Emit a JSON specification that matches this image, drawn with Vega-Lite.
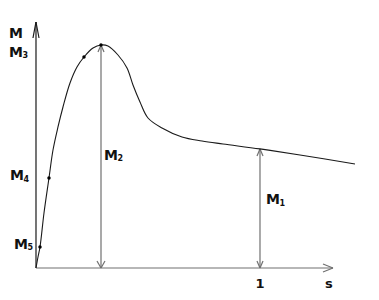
{
  "$schema": "https://vega.github.io/schema/vega-lite/v6.json",
  "width": 379,
  "height": 300,
  "padding": 0,
  "autosize": {"type": "fit", "contains": "padding"},
  "background": "white",
  "config": {"view": {"stroke": null}},
  "datasets": {
    "curve": [
      {"s": 0, "M": 0},
      {"s": 0.0089, "M": 0.0493},
      {"s": 0.0179, "M": 0.0942},
      {"s": 0.0357, "M": 0.2466},
      {"s": 0.058, "M": 0.4036},
      {"s": 0.0759, "M": 0.5291},
      {"s": 0.0982, "M": 0.6323},
      {"s": 0.1205, "M": 0.722},
      {"s": 0.1518, "M": 0.8296},
      {"s": 0.183, "M": 0.9013},
      {"s": 0.2143, "M": 0.9462},
      {"s": 0.2545, "M": 0.9865},
      {"s": 0.2902, "M": 1.0},
      {"s": 0.3214, "M": 0.9955},
      {"s": 0.3661, "M": 0.9552},
      {"s": 0.4063, "M": 0.8969},
      {"s": 0.433, "M": 0.8206},
      {"s": 0.4643, "M": 0.7444},
      {"s": 0.5, "M": 0.6726},
      {"s": 0.5625, "M": 0.6278},
      {"s": 0.6518, "M": 0.5874},
      {"s": 0.7411, "M": 0.5695},
      {"s": 0.8348, "M": 0.5561},
      {"s": 1.0, "M": 0.534},
      {"s": 1.1786, "M": 0.5067},
      {"s": 1.4241, "M": 0.4664}
    ],
    "dots": [
      {"s": 0.0179, "M": 0.0942},
      {"s": 0.058, "M": 0.4036},
      {"s": 0.2143, "M": 0.9462},
      {"s": 0.2902, "M": 1.0}
    ],
    "segs": [
      {"g": "axis", "x": 0, "y": 0, "x2": 0, "y2": 1.1031},
      {"g": "axis", "x": 0, "y": 1.1031, "x2": -0.0134, "y2": 1.0314},
      {"g": "axis", "x": 0, "y": 1.1031, "x2": 0.0134, "y2": 1.0314},
      {"g": "dim", "x": 0, "y": 0, "x2": 1.3259, "y2": 0},
      {"g": "dim", "x": 1.3259, "y": 0, "x2": 1.2813, "y2": 0.0179},
      {"g": "dim", "x": 1.3259, "y": 0, "x2": 1.2813, "y2": -0.0179},
      {"g": "dim", "x": 0.2902, "y": 0, "x2": 0.2902, "y2": 1.0},
      {"g": "dim", "x": 0.2902, "y": 1.0, "x2": 0.2768, "y2": 0.9686},
      {"g": "dim", "x": 0.2902, "y": 1.0, "x2": 0.3036, "y2": 0.9686},
      {"g": "dim", "x": 0.2902, "y": 0, "x2": 0.2723, "y2": 0.0314},
      {"g": "dim", "x": 0.2902, "y": 0, "x2": 0.308, "y2": 0.0314},
      {"g": "dim", "x": 1.0, "y": 0, "x2": 1.0, "y2": 0.534},
      {"g": "dim", "x": 1.0, "y": 0.534, "x2": 0.9866, "y2": 0.5022},
      {"g": "dim", "x": 1.0, "y": 0.534, "x2": 1.0134, "y2": 0.5022},
      {"g": "dim", "x": 1.0, "y": 0, "x2": 0.9866, "y2": 0.0314},
      {"g": "dim", "x": 1.0, "y": 0, "x2": 1.0134, "y2": 0.0314}
    ],
    "labels": [
      {"t": "M", "s": -0.1205, "M": 1.0336},
      {"t": "M", "s": -0.1205, "M": 0.944},
      {"t": "M", "s": -0.1161, "M": 0.3946},
      {"t": "M", "s": -0.0982, "M": 0.0852},
      {"t": "M", "s": 0.3036, "M": 0.4865},
      {"t": "M", "s": 1.0268, "M": 0.2848}
    ],
    "subs": [
      {"t": "3", "s": -0.0603, "M": 0.9395},
      {"t": "4", "s": -0.0558, "M": 0.3843},
      {"t": "5", "s": -0.038, "M": 0.0807},
      {"t": "2", "s": 0.3638, "M": 0.4776},
      {"t": "1", "s": 1.087, "M": 0.278}
    ],
    "ticks": [
      {"t": "1", "s": 1.0, "M": -0.091},
      {"t": "s", "s": 1.308, "M": -0.091}
    ]
  },
  "layer": [
    {
      "data": {"name": "segs"},
      "mark": {"type": "rule", "strokeWidth": 1.2},
      "encoding": {
        "x": {"field": "x", "type": "quantitative", "axis": null, "scale": {"domain": [-0.1607, 1.5313], "nice": false, "zero": false}},
        "y": {"field": "y", "type": "quantitative", "axis": null, "scale": {"domain": [-0.1435, 1.2018], "nice": false, "zero": false}},
        "x2": {"field": "x2"},
        "y2": {"field": "y2"},
        "color": {"field": "g", "type": "nominal", "legend": null, "scale": {"domain": ["axis", "dim"], "range": ["#1a1a1a", "#707070"]}}
      }
    },
    {
      "data": {"name": "curve"},
      "mark": {"type": "line", "interpolate": "catmull-rom", "color": "#1a1a1a", "strokeWidth": 1.1},
      "encoding": {
        "x": {"field": "s", "type": "quantitative"},
        "y": {"field": "M", "type": "quantitative"}
      }
    },
    {
      "data": {"name": "dots"},
      "mark": {"type": "point", "filled": true, "color": "black", "size": 12, "opacity": 1},
      "encoding": {
        "x": {"field": "s", "type": "quantitative"},
        "y": {"field": "M", "type": "quantitative"}
      }
    },
    {
      "data": {"name": "labels"},
      "mark": {"type": "text", "align": "left", "baseline": "alphabetic", "font": "DejaVu Sans", "fontWeight": "bold", "fontSize": 14, "color": "#111"},
      "encoding": {
        "x": {"field": "s", "type": "quantitative"},
        "y": {"field": "M", "type": "quantitative"},
        "text": {"field": "t"}
      }
    },
    {
      "data": {"name": "subs"},
      "mark": {"type": "text", "align": "left", "baseline": "alphabetic", "font": "DejaVu Sans", "fontWeight": "bold", "fontSize": 8, "color": "#111"},
      "encoding": {
        "x": {"field": "s", "type": "quantitative"},
        "y": {"field": "M", "type": "quantitative"},
        "text": {"field": "t"}
      }
    },
    {
      "data": {"name": "ticks"},
      "mark": {"type": "text", "align": "center", "baseline": "alphabetic", "font": "DejaVu Sans", "fontWeight": "bold", "fontSize": 13, "color": "#111"},
      "encoding": {
        "x": {"field": "s", "type": "quantitative"},
        "y": {"field": "M", "type": "quantitative"},
        "text": {"field": "t"}
      }
    }
  ]
}
